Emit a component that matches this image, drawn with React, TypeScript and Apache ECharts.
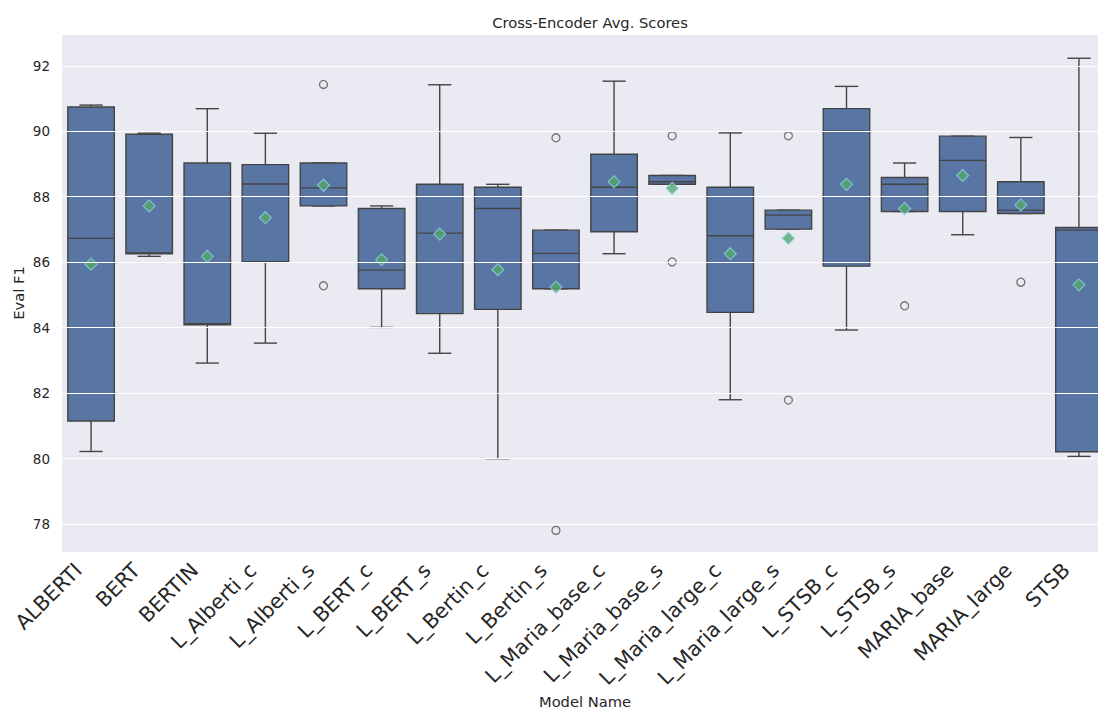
import React, { useEffect, useRef } from "react";
import * as echarts from "echarts";

// Model names on the x axis
const categories = [
  "ALBERTI", "BERT", "BERTIN", "L_Alberti_c", "L_Alberti_s", "L_BERT_c",
  "L_BERT_s", "L_Bertin_c", "L_Bertin_s", "L_Maria_base_c", "L_Maria_base_s",
  "L_Maria_large_c", "L_Maria_large_s", "L_STSB_c", "L_STSB_s", "MARIA_base",
  "MARIA_large", "STSB",
];

// [lower whisker, Q1, median, Q3, upper whisker]
const boxStats: number[][] = [
  [80.22, 81.15, 86.73, 90.74, 90.80],
  [86.18, 86.26, 86.28, 89.91, 89.94],
  [82.92, 84.09, 84.12, 89.03, 90.69],
  [83.53, 86.02, 88.39, 88.98, 89.94],
  [87.72, 87.72, 88.27, 89.03, 89.03],
  [84.01, 85.19, 85.76, 87.64, 87.72],
  [83.22, 84.43, 86.89, 88.38, 91.42],
  [80.00, 84.56, 87.64, 88.29, 88.38],
  [85.19, 85.19, 86.27, 86.98, 86.98],
  [86.26, 86.93, 88.29, 89.30, 91.53],
  [88.38, 88.38, 88.46, 88.65, 88.65],
  [81.80, 84.47, 86.81, 88.29, 89.95],
  [87.01, 87.01, 87.44, 87.59, 87.59],
  [83.93, 85.88, 90.00, 90.69, 91.37],
  [87.55, 87.55, 88.38, 88.59, 89.03],
  [86.84, 87.55, 89.11, 89.85, 89.85],
  [87.49, 87.49, 87.59, 88.46, 89.81],
  [80.07, 80.21, 86.98, 87.06, 92.23],
];

// Mean F1 per model
const means = [
  85.94, 87.72, 86.18, 87.36, 88.35, 86.08, 86.86, 85.77, 85.24,
  88.46, 88.26, 86.26, 86.73, 88.38, 87.64, 88.65, 87.75, 85.31,
];

// Outliers as [model index, value]
const outliers: number[][] = [
  [4, 91.43], [4, 85.28],
  [8, 89.80], [8, 77.81],
  [10, 89.86], [10, 86.01],
  [12, 89.86], [12, 81.79],
  [14, 84.67],
  [16, 85.39],
];

const yTicks = [78, 80, 82, 84, 86, 88, 90, 92];

const FONT = "DejaVu Sans";
const TEXT = "#262626";
const BOX_FILL = "#5875a4";
const EDGE = "#444444";

export default function App() {
  const ref = useRef<HTMLDivElement>(null);

  useEffect(() => {
    if (!ref.current) return;
    const chart = echarts.init(ref.current, undefined, { renderer: "svg" });

    const renderBox = (params: any, api: any) => {
      const idx = api.value(0);
      const lo = api.value(1);
      const q1 = api.value(2);
      const med = api.value(3);
      const q3 = api.value(4);
      const hi = api.value(5);
      const band = api.size([1, 0])[0];
      const bw = band * 0.8;
      const cw = bw * 0.5;
      const [cx, yLo] = api.coord([idx, lo]);
      const yQ1 = api.coord([idx, q1])[1];
      const yMed = api.coord([idx, med])[1];
      const yQ3 = api.coord([idx, q3])[1];
      const yHi = api.coord([idx, hi])[1];
      const line = { stroke: EDGE, lineWidth: 1.4 };
      return {
        type: "group",
        children: [
          { type: "line", shape: { x1: cx, y1: yQ3, x2: cx, y2: yHi }, style: line },
          { type: "line", shape: { x1: cx, y1: yQ1, x2: cx, y2: yLo }, style: line },
          { type: "line", shape: { x1: cx - cw / 2, y1: yHi, x2: cx + cw / 2, y2: yHi }, style: line },
          { type: "line", shape: { x1: cx - cw / 2, y1: yLo, x2: cx + cw / 2, y2: yLo }, style: line },
          {
            type: "rect",
            shape: { x: cx - bw / 2, y: yQ3, width: bw, height: yQ1 - yQ3 },
            style: { fill: BOX_FILL, stroke: EDGE, lineWidth: 1.4 },
          },
          { type: "line", shape: { x1: cx - bw / 2, y1: yMed, x2: cx + bw / 2, y2: yMed }, style: line },
        ],
      };
    };

    chart.setOption({
      animation: false,
      backgroundColor: "#ffffff",
      textStyle: { fontFamily: FONT },
      title: {
        text: "Cross-Encoder Avg. Scores",
        left: 585,
        top: 10,
        textAlign: "center",
        textStyle: { fontFamily: FONT, fontSize: 14.7, fontWeight: "normal", color: TEXT },
      },
      // Axis titles
      graphic: [
        {
          type: "text",
          x: 585,
          y: 701,
          style: {
            text: "Model Name",
            align: "center",
            verticalAlign: "middle",
            fontFamily: FONT,
            fontSize: 14.7,
            fill: TEXT,
          },
        },
        {
          type: "text",
          x: 18,
          y: 293,
          rotation: Math.PI / 2,
          style: {
            text: "Eval F1",
            align: "center",
            verticalAlign: "middle",
            fontFamily: FONT,
            fontSize: 14.7,
            fill: TEXT,
          },
        },
      ],
      grid: {
        left: 62,
        top: 35,
        width: 1046,
        height: 517,
        outerBoundsMode: "none",
        containLabel: false,
        show: true,
        backgroundColor: "#eaeaf2",
        borderWidth: 0,
      },
      xAxis: {
        type: "category",
        data: categories,
        boundaryGap: true,
        axisLine: { show: false },
        axisTick: { show: false },
        splitLine: { show: false },
        axisLabel: {
          rotate: 45,
          interval: 0,
          margin: 2,
          padding: [0, 18, 0, 0],
          fontSize: 20.5,
          color: TEXT,
          fontFamily: FONT,
        },
      },
      yAxis: {
        type: "value",
        min: 77.15,
        max: 92.94,
        axisLine: { show: false },
        axisTick: { show: false },
        splitLine: { show: false },
        axisLabel: {
          customValues: yTicks,
          margin: 12,
          fontSize: 13.5,
          color: TEXT,
          fontFamily: FONT,
        },
      },
      series: [
        {
          type: "line",
          data: [],
          z: 1,
          silent: true,
          markLine: {
            silent: true,
            symbol: "none",
            label: { show: false },
            lineStyle: { color: "#ffffff", width: 1.2, type: "solid" },
            data: yTicks.map((v) => ({ yAxis: v })),
          },
        },
        {
          type: "custom",
          z: 2,
          renderItem: renderBox,
          encode: { x: 0, y: [1, 2, 3, 4, 5] },
          data: boxStats.map((s, i) => [i, ...s]),
        },
        {
          type: "scatter",
          z: 3,
          symbol: "circle",
          symbolSize: 8,
          itemStyle: { color: "rgba(0,0,0,0)", borderColor: "#555555", borderWidth: 1.3 },
          data: outliers,
        },
        {
          type: "scatter",
          z: 4,
          symbol: "diamond",
          symbolSize: [12, 12],
          itemStyle: { color: "#55a868", borderColor: "#8ad0e0", borderWidth: 1.2 },
          data: means.map((m, i) => [i, m]),
        },
      ],
    });

    return () => chart.dispose();
  }, []);

  return (
    <div
      ref={ref}
      style={{ position: "fixed", left: 0, top: 0, width: 1098, height: 710 }}
    />
  );
}
